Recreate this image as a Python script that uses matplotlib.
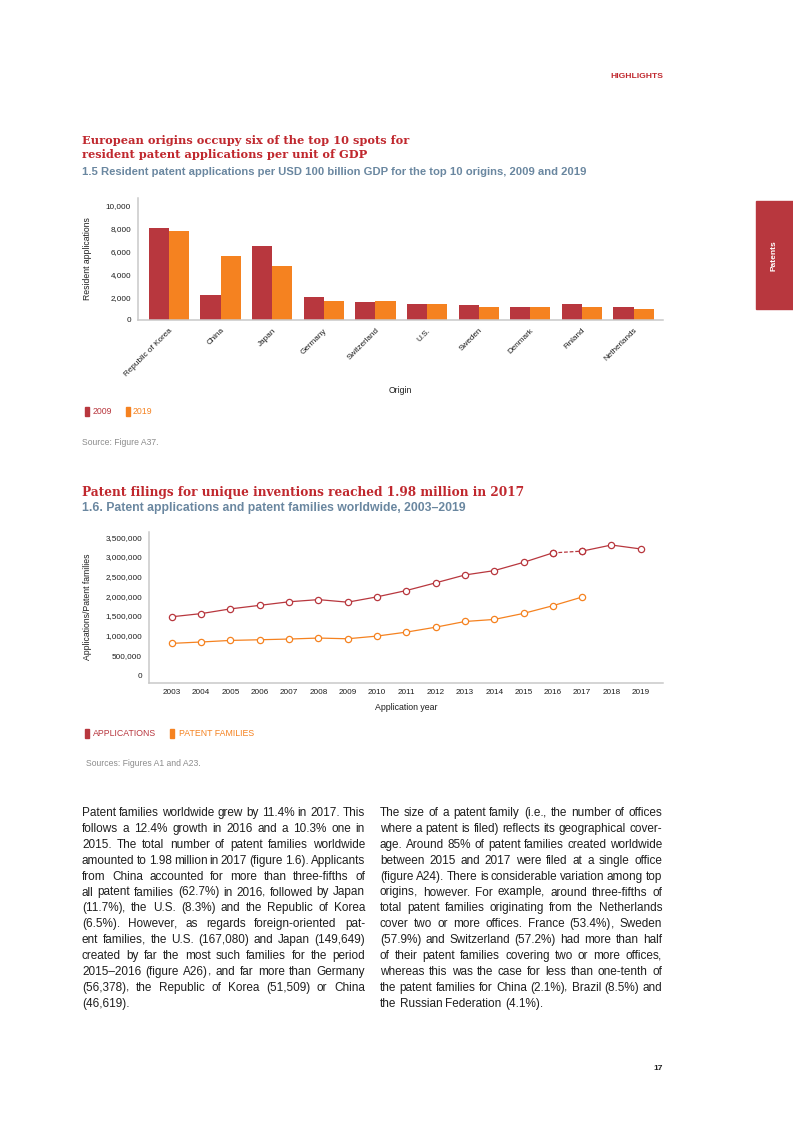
import numpy as np
import matplotlib
matplotlib.use("Agg")
import matplotlib.pyplot as plt
from matplotlib.patches import Rectangle
from matplotlib.ticker import FuncFormatter

W, H = 793, 1122
RED = "#B8373E"
ORANGE = "#F58220"
TITLE_RED = "#C0282E"
SUB = "#6A87A0"
AXIS = "#C9C9C9"
INK = "#1E1E1E"
GREY = "#8C8C8C"
SANS = ["Liberation Sans", "DejaVu Sans"]
SERIF = ["DejaVu Serif"]

# figure 1.5 - resident applications per USD 100 bn GDP
origins = ["Republic of Korea", "China", "Japan", "Germany", "Switzerland",
           "U.S.", "Sweden", "Denmark", "Finland", "Netherlands"]
apps_2009 = [8030, 2200, 6450, 2020, 1580, 1420, 1290, 1100, 1420, 1100]
apps_2019 = [7830, 5580, 4760, 1690, 1690, 1420, 1160, 1160, 1160, 960]
gdp_ticks = [0, 2000, 4000, 6000, 8000, 10000]

# figure 1.6 - applications and patent families worldwide
years = list(range(2003, 2020))
applications = [1480000, 1560000, 1680000, 1770000, 1860000, 1915000, 1850000,
                1985000, 2145000, 2340000, 2540000, 2650000, 2860000, 3100000,
                3145000, 3300000, 3200000]
family_years = list(range(2003, 2018))
families = [805000, 840000, 880000, 897000, 915000, 940000, 922000, 990000,
            1090000, 1215000, 1360000, 1412000, 1565000, 1760000, 1980000]
world_ticks = [0, 500000, 1000000, 1500000, 2000000, 2500000, 3000000, 3500000]

left_col = [
    "Patent families worldwide grew by 11.4% in 2017. This",
    "follows a 12.4% growth in 2016 and a 10.3% one in",
    "2015. The total number of patent families worldwide",
    "amounted to 1.98 million in 2017 (figure 1.6). Applicants",
    "from China accounted for more than three-fifths of",
    "all patent families (62.7%) in 2016, followed by Japan",
    "(11.7%), the U.S. (8.3%) and the Republic of Korea",
    "(6.5%). However, as regards foreign-oriented pat-",
    "ent families, the U.S. (167,080) and Japan (149,649)",
    "created by far the most such families for the period",
    "2015\u20132016 (figure A26), and far more than Germany",
    "(56,378), the Republic of Korea (51,509) or China",
    "(46,619).",
]
right_col = [
    "The size of a patent family (i.e., the number of offices",
    "where a patent is filed) reflects its geographical cover-",
    "age. Around 85% of patent families created worldwide",
    "between 2015 and 2017 were filed at a single office",
    "(figure A24). There is considerable variation among top",
    "origins, however. For example, around three-fifths of",
    "total patent families originating from the Netherlands",
    "cover two or more offices. France (53.4%), Sweden",
    "(57.9%) and Switzerland (57.2%) had more than half",
    "of their patent families covering two or more offices,",
    "whereas this was the case for less than one-tenth of",
    "the patent families for China (2.1%), Brazil (8.5%) and",
    "the Russian Federation (4.1%).",
]

fig = plt.figure(figsize=(W / 100, H / 100), dpi=100)
renderer = fig.canvas.get_renderer()


def put(x, y, s, size, color=INK, weight="normal", family=SANS, **kw):
    kw.setdefault("va", "center")
    return fig.text(x / W, 1 - y / H, s, fontsize=size, color=color,
                    fontweight=weight, family=family, **kw)


def width_px(s, size, weight="normal", family=SANS):
    t = fig.text(0, 0, s, fontsize=size, fontweight=weight, family=family)
    w = t.get_window_extent(renderer).width
    t.remove()
    return w


def fitted_size(s, target, weight="bold", family=SANS):
    return 10 * target / width_px(s, 10, weight, family)


def mark(x, y0, y1, color):
    fig.patches.append(Rectangle((x / W, 1 - y1 / H), 4.2 / W, (y1 - y0) / H,
                                 transform=fig.transFigure, color=color))


def word(x, y, w, fs):
    # a trailing comma is drawn on its own, otherwise the word sits low
    if w.endswith(",") and len(w) > 1:
        put(x, y, w[:-1], fs, va="baseline")
        put(x + width_px(w[:-1], fs) - 0.6, y, ",", fs, va="baseline")
    else:
        put(x, y, w, fs, va="baseline")


def paragraph(x0, base, lines, width, size=8.5, lead=15.9):
    # justified lines, last line left aligned
    for i, line in enumerate(lines):
        y = base + i * lead
        words = line.split(" ")
        fs = size
        ws = [width_px(w, fs) for w in words]
        if i == len(lines) - 1:
            gap = width_px("a b", fs) - width_px("ab", fs)
        else:
            gap = (width - sum(ws)) / (len(words) - 1)
            if gap < 2.0:
                fs = size * (width - 2.0 * (len(words) - 1)) / sum(ws)
                ws = [width_px(w, fs) for w in words]
                gap = (width - sum(ws)) / (len(words) - 1)
        x = x0
        for w, wd in zip(words, ws):
            word(x, y, w, fs)
            x += wd + gap


def ax_at(l, t, r, b):
    return fig.add_axes([l / W, 1 - b / H, (r - l) / W, (b - t) / H])


def style(ax):
    for s in ["top", "right"]:
        ax.spines[s].set_visible(False)
    for s in ["left", "bottom"]:
        ax.spines[s].set_color(AXIS)
        ax.spines[s].set_linewidth(1.1)
    ax.tick_params(length=0, labelsize=5.9, colors=INK)
    ax.yaxis.set_major_formatter(FuncFormatter(lambda v, _: f"{v:,.0f}"))
    for lab in ax.get_xticklabels() + ax.get_yticklabels():
        lab.set_family(SANS)


# header and side tab
put(663, 76.5, "HIGHLIGHTS", 6.1, color=TITLE_RED, weight="bold", ha="right")
fig.patches.append(Rectangle((756 / W, 1 - 309 / H), 37 / W, 108 / H,
                             transform=fig.transFigure, color=RED))
put(774, 256, "Patents", 6.0, color="white", weight="bold", ha="center",
    rotation=90)

# ---- figure 1.5 ----
t1 = "European origins occupy six of the top 10 spots for"
ts = fitted_size(t1, 326, family=SERIF)
put(82, 144, t1, ts, color=TITLE_RED, weight="bold", family=SERIF, va="baseline")
put(82, 158.5, "resident patent applications per unit of GDP", ts,
    color=TITLE_RED, weight="bold", family=SERIF, va="baseline")
s1 = "1.5 Resident patent applications per USD 100 billion GDP for the top 10 origins, 2009 and 2019"
put(82, 175, s1, fitted_size(s1, 505), color=SUB, weight="bold", va="baseline")

ax1 = ax_at(138, 198, 663, 320)
x = np.arange(len(origins))
bw = 0.39
ax1.bar(x - bw / 2, apps_2009, bw, color=RED)
ax1.bar(x + bw / 2, apps_2019, bw, color=ORANGE)
ax1.set_xlim(-0.6, 9.57)
ax1.set_ylim(0, 10700)
ax1.set_yticks(gdp_ticks)
ax1.set_xticks(x)
ax1.set_xticklabels(origins, rotation=45, ha="right", va="top",
                    rotation_mode="anchor", fontsize=5.8)
style(ax1)
ax1.tick_params(axis="y", pad=5)
ax1.tick_params(axis="x", pad=5)

put(88, 259, "Resident applications", 6.2, ha="center", rotation=90)
put(400, 390, "Origin", 6.2, ha="center")

mark(85, 407, 416, RED)
put(93, 411.5, "2009", 6.3, color=RED)
mark(126, 407, 416, ORANGE)
put(133, 411.5, "2019", 6.3, color=ORANGE)
put(82.5, 442.5, "Source: Figure A37.", 6.2, color=GREY)

# ---- figure 1.6 ----
t2 = "Patent filings for unique inventions reached 1.98 million in 2017"
put(82, 496, t2, fitted_size(t2, 443, family=SERIF), color=TITLE_RED,
    weight="bold", family=SERIF, va="baseline")
s2 = "1.6. Patent applications and patent families worldwide, 2003\u20132019"
put(82, 511, s2, fitted_size(s2, 381), color=SUB, weight="bold", va="baseline")

ax2 = ax_at(149, 532, 663, 683)
line_kw = dict(lw=0.9, marker="o", ms=4.5, mfc="white", mew=0.9)
ax2.plot(years[:14], applications[:14], color=RED, **line_kw)
ax2.plot(years[13:15], applications[13:15], color=RED, ls=(0, (3, 1.5)), **line_kw)
ax2.plot(years[14:], applications[14:], color=RED, **line_kw)
ax2.plot(family_years, families, color=ORANGE, **line_kw)
ax2.set_xlim(2002.22, 2019.76)
ax2.set_ylim(-200000, 3630000)
ax2.set_xticks(years)
ax2.set_yticks(world_ticks)
style(ax2)
ax2.tick_params(axis="y", pad=5)
ax2.tick_params(axis="x", pad=4)

put(88, 607, "Applications/Patent families", 6.2, ha="center", rotation=90)
put(406, 708, "Application year", 6.3, ha="center")

mark(84.5, 729, 738, RED)
put(93, 733.5, "APPLICATIONS", 6.3, color=RED)
mark(170, 729, 738, ORANGE)
put(179, 733.5, "PATENT FAMILIES", 6.3, color=ORANGE)
put(86, 764, "Sources: Figures A1 and A23.", 6.2, color=GREY)

# body text
paragraph(82, 816, left_col, 283)
paragraph(380, 816, right_col, 282)

put(663, 1069, "17", 6.0, weight="bold", ha="right")

fig.savefig("out.png", dpi=100)
